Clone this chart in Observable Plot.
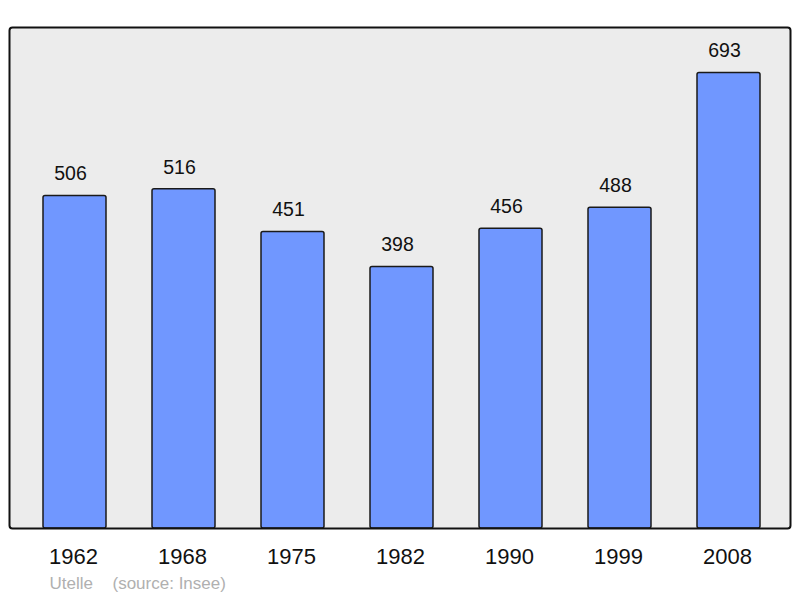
<!DOCTYPE html>
<html>
<head>
<meta charset="utf-8">
<script src="https://cdn.jsdelivr.net/npm/d3@7"></script>
<script src="https://cdn.jsdelivr.net/npm/@observablehq/plot@0.6"></script>
<style>
  html, body { margin: 0; padding: 0; background: #ffffff; }
</style>
</head>
<body>
<div id="chart"></div>
<script>
const years = ["1962", "1968", "1975", "1982", "1990", "1999", "2008"];
const population = [506, 516, 451, 398, 456, 488, 693];
const commune = "Utelle";
const source = "(source: Insee)";

const data = years.map((y, i) => ({year: y, pop: population[i]}));

const chart = Plot.plot({
  width: 800,
  height: 598,
  marginLeft: 9,
  marginRight: 10,
  marginTop: 27,
  marginBottom: 70,
  style: {fontFamily: "'Liberation Sans', Arial, sans-serif", background: "#ffffff", color: "#000"},
  x: {domain: years, range: [41.5, 761.5], paddingInner: 0.424, paddingOuter: 0, label: null},
  y: {domain: [0, 762.3], range: [528, 27], axis: null},
  marks: [
    Plot.frame({fill: "#ececec", stroke: "none", rx: 3}),
    Plot.barY(data, {x: "year", y: "pop", fill: "#7097ff", stroke: "#1a1a1a", strokeWidth: 1.5, rx: 2}),
    Plot.frame({fill: "none", stroke: "#111", strokeWidth: 2, rx: 3}),
    Plot.text(data, {x: "year", y: "pop", text: d => String(d.pop), dx: -4.5, dy: -22, fontSize: 19.5, fill: "#111"}),
    Plot.axisX({tickSize: 0, tickPadding: 20, fontSize: 22, label: null, color: "#111", dx: -1.5}),
    Plot.text([commune], {frameAnchor: "bottom-left", text: d => d, dx: 40, dy: 60, fontSize: 17, fill: "#b0b0b0", textAnchor: "start"}),
    Plot.text([source], {frameAnchor: "bottom-left", text: d => d, dx: 103, dy: 60, fontSize: 17, fill: "#b0b0b0", textAnchor: "start"})
  ]
});
document.getElementById("chart").appendChild(chart);
</script>
</body>
</html>
